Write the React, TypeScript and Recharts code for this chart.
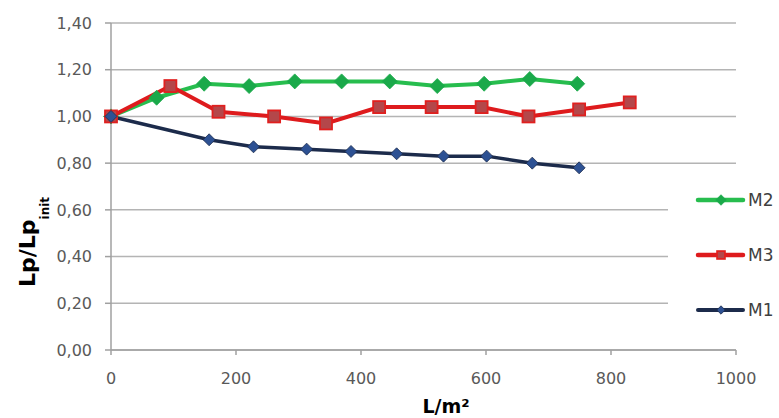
import { CartesianGrid, Legend, Line, LineChart, XAxis, YAxis } from 'recharts';

// L/m² values and Lp/Lp_init
const m1X = [0, 157, 228, 313, 384, 457, 532, 601, 674, 749];
const m1Y = [1.0, 0.9, 0.87, 0.86, 0.85, 0.84, 0.83, 0.83, 0.8, 0.78];

const m2X = [0, 73, 149, 221, 294, 369, 446, 522, 597, 670, 746];
const m2Y = [1.0, 1.08, 1.14, 1.13, 1.15, 1.15, 1.15, 1.13, 1.14, 1.16, 1.14];

const m3X = [0, 95, 172, 261, 344, 429, 513, 593, 668, 749, 830];
const m3Y = [1.0, 1.13, 1.02, 1.0, 0.97, 1.04, 1.04, 1.04, 1.0, 1.03, 1.06];

const xTicks = [0, 200, 400, 600, 800, 1000];
const yTicks = [0, 0.2, 0.4, 0.6, 0.8, 1.0, 1.2, 1.4];
const legendOrder = ['M2', 'M3', 'M1'];

const toRows = (xs: number[], ys: number[]) => xs.map((x, i) => ({ x, y: ys[i] }));
const m1 = toRows(m1X, m1Y);
const m2 = toRows(m2X, m2Y);
const m3 = toRows(m3X, m3Y);

const FONT = '"DejaVu Sans", sans-serif';
const GRID = '#b4b4b4';

const style = {
  M2: { line: '#27bd4e', fill: '#1aa94a', stroke: '#1aa94a', shape: 'diamond', r: 7.5, w: 4 },
  M3: { line: '#de1b1d', fill: '#b4474a', stroke: '#e0201f', shape: 'square', r: 7, w: 4 },
  M1: { line: '#1c2b4b', fill: '#2d5193', stroke: '#1c2b4b', shape: 'diamond', r: 6, w: 3.5 },
} as const;

function Marker({ cx, cy, name, scale = 1 }: { cx: number; cy: number; name: keyof typeof style; scale?: number }) {
  const s = style[name];
  const r = s.r * scale;
  if (s.shape === 'square') {
    return <rect x={cx - r + 1} y={cy - r + 1} width={2 * r - 2} height={2 * r - 2} fill={s.fill} stroke={s.stroke} strokeWidth={1.8} />;
  }
  return (
    <path
      d={`M${cx},${cy - r}L${cx + r},${cy}L${cx},${cy + r}L${cx - r},${cy}Z`}
      fill={s.fill}
      stroke={s.stroke}
      strokeWidth={0.8}
    />
  );
}

const dotFor = (name: keyof typeof style) => (props: any) => (
  <Marker key={`${name}-${props.index}`} cx={props.cx} cy={props.cy} name={name} />
);

function LegendBox() {
  return (
    <div style={{ width: 111, height: 150, background: '#fff', position: 'relative' }}>
      {legendOrder.map((n, i) => {
        const s = style[n as keyof typeof style];
        const cy = 22 + i * 55;
        return (
          <svg key={n} width={111} height={30} style={{ position: 'absolute', left: 0, top: cy - 15 }}>
            <line x1={30} x2={75} y1={15} y2={15} stroke={s.line} strokeWidth={s.w + 0.5} strokeLinecap="round" />
            <Marker cx={53} cy={15} name={n as keyof typeof style} scale={0.7} />
            <text x={80} y={21} fontFamily={FONT} fontSize={17} fill="#404040">
              {n}
            </text>
          </svg>
        );
      })}
    </div>
  );
}

const fmt = (v: number) => v.toFixed(2).replace('.', ',');

export default function App() {
  return (
    <div style={{ position: 'absolute', left: 0, top: 0, background: '#fff' }}>
      <LineChart width={779} height={418} margin={{ top: 23, right: 43, bottom: 0, left: 0 }}>
        <CartesianGrid vertical={false} stroke={GRID} strokeWidth={1.5} />
        <XAxis
          type="number"
          dataKey="x"
          domain={[0, 1000]}
          ticks={xTicks}
          height={68}
          stroke="#a0a0a0"
          strokeWidth={1.5}
          tickSize={5}
          tickMargin={18}
          tick={{ fill: '#595959', fontSize: 16, fontFamily: FONT }}
          label={{
            content: () => (
              <text x={446} y={413} textAnchor="middle" fontFamily={FONT} fontWeight="bold" fontSize={19} fill="#000">
                L/m²
              </text>
            ),
          }}
        />
        <YAxis
          type="number"
          domain={[0, 1.4]}
          ticks={yTicks}
          width={111}
          stroke="#a0a0a0"
          strokeWidth={1.5}
          tickSize={6}
          tickMargin={13}
          tickFormatter={fmt}
          tick={{ fill: '#595959', fontSize: 16, fontFamily: FONT }}
          label={{
            content: () => (
              <text
                x={35}
                y={287}
                transform="rotate(-90 35 287)"
                textAnchor="start"
                fontFamily={FONT}
                fontWeight="bold"
                fontSize={22}
                fill="#000"
              >
                Lp/Lp
                <tspan fontSize={12} dy={14}>
                  init
                </tspan>
              </text>
            ),
          }}
        />
        <Legend
          layout="vertical"
          align="center"
          verticalAlign="middle"
          content={() => <LegendBox />}
          wrapperStyle={{ left: 668, top: 178, width: 111, height: 150 }}
        />
        <Line data={m2} dataKey="y" name="M2" stroke={style.M2.line} strokeWidth={style.M2.w} dot={dotFor('M2')} isAnimationActive={false} />
        <Line data={m3} dataKey="y" name="M3" stroke={style.M3.line} strokeWidth={style.M3.w} dot={dotFor('M3')} isAnimationActive={false} />
        <Line data={m1} dataKey="y" name="M1" stroke={style.M1.line} strokeWidth={style.M1.w} dot={dotFor('M1')} isAnimationActive={false} />
      </LineChart>
    </div>
  );
}
